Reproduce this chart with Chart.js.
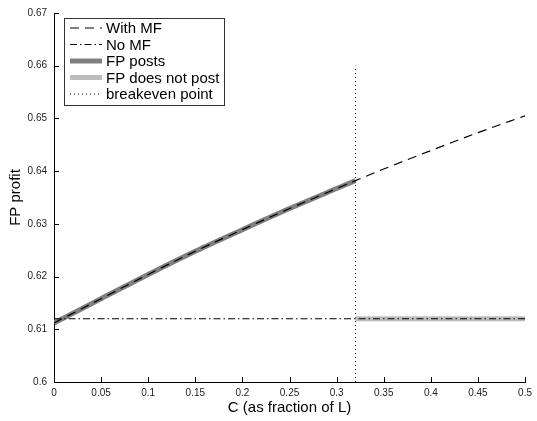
<!DOCTYPE html>
<html>
<head>
<meta charset="utf-8">
<script src="https://cdn.jsdelivr.net/npm/chart.js@4.4.1/dist/chart.umd.min.js"></script>
<style>
  html, body { margin: 0; padding: 0; background: #fff; }
  #wrap { width: 537px; height: 421px; }
</style>
</head>
<body>
<div id="wrap"><canvas id="chartFP"></canvas></div>
<script>
// values
const C_VALUES  = [0, 0.05, 0.1, 0.15, 0.2, 0.25, 0.3, 0.32, 0.35, 0.4, 0.45, 0.5];
const WITH_MF   = [0.6112, 0.6158, 0.6204, 0.6248, 0.6289, 0.6329, 0.6367, 0.6382, 0.6404, 0.6439, 0.6473, 0.6505];
const NO_MF_C   = [0, 0.5];
const NO_MF     = [0.612, 0.612];
const POSTS_C   = [0, 0.05, 0.1, 0.15, 0.2, 0.25, 0.3, 0.32];
const POSTS     = [0.6112, 0.6158, 0.6204, 0.6248, 0.6289, 0.6329, 0.6367, 0.6382];
const NOPOST_C  = [0.32, 0.5];
const NOPOST    = [0.612, 0.612];
const BREAK_C   = [0.32, 0.32];
const BREAK_Y   = [0.6, 0.66];
const X_TICKS   = [0, 0.05, 0.1, 0.15, 0.2, 0.25, 0.3, 0.35, 0.4, 0.45, 0.5];
const Y_TICKS   = [0.6, 0.61, 0.62, 0.63, 0.64, 0.65, 0.66, 0.67];
const LABELS    = ['With MF', 'No MF', 'FP posts', 'FP does not post', 'breakeven point'];

const FONT = "'Liberation Sans', Arial, Helvetica, sans-serif";

function pts(xs, ys) {
  return xs.map((x, i) => ({ x, y: ys[i] }));
}

function fmtTick(v) {
  return String(parseFloat(Number(v).toFixed(2)));
}

// MATLAB-style ticks pointing into the plot
const inwardTicks = {
  id: 'inwardTicks',
  afterDraw(chart) {
    const { ctx, chartArea: a, scales: { x, y } } = chart;
    ctx.save();
    ctx.strokeStyle = '#000';
    ctx.lineWidth = 1;
    ctx.beginPath();
    X_TICKS.forEach(v => {
      const px = Math.round(x.getPixelForValue(v)) + 0.5;
      ctx.moveTo(px, a.bottom);
      ctx.lineTo(px, a.bottom - 5);
    });
    Y_TICKS.forEach(v => {
      const py = Math.round(y.getPixelForValue(v)) + 0.5;
      ctx.moveTo(a.left, py);
      ctx.lineTo(a.left + 5, py);
    });
    ctx.stroke();
    ctx.restore();
  }
};

// boxed legend in the upper left corner
const boxLegend = {
  id: 'boxLegend',
  afterDraw(chart) {
    const ctx = chart.ctx;
    const left = 64, top = 18, w = 160, h = 87, row = 16.5;
    ctx.save();
    ctx.fillStyle = '#fff';
    ctx.fillRect(left, top, w, h);
    ctx.strokeStyle = '#333';
    ctx.lineWidth = 1;
    ctx.strokeRect(left + 0.5, top + 0.5, w, h);
    ctx.font = '15px ' + FONT;
    ctx.textBaseline = 'middle';
    chart.data.datasets.forEach((ds, i) => {
      const cy = top + 10 + i * row;
      ctx.beginPath();
      ctx.setLineDash(ds.borderDash || []);
      ctx.strokeStyle = ds.borderColor;
      ctx.lineWidth = ds.borderWidth;
      ctx.moveTo(70, cy);
      ctx.lineTo(102, cy);
      ctx.stroke();
      ctx.setLineDash([]);
      ctx.fillStyle = '#000';
      ctx.fillText(LABELS[i], 106, cy + 1);
    });
    ctx.restore();
  }
};

new Chart(document.getElementById('chartFP'), {
  type: 'line',
  data: {
    datasets: [
      { label: LABELS[0], data: pts(C_VALUES, WITH_MF), borderColor: '#000', borderWidth: 1.2,
        borderDash: [9, 6], cubicInterpolationMode: 'monotone' },
      { label: LABELS[1], data: pts(NO_MF_C, NO_MF), borderColor: '#000', borderWidth: 1.1,
        borderDash: [7, 3, 1.5, 3] },
      { label: LABELS[2], data: pts(POSTS_C, POSTS), borderColor: '#7f7f7f', borderWidth: 5,
        cubicInterpolationMode: 'monotone' },
      { label: LABELS[3], data: pts(NOPOST_C, NOPOST), borderColor: '#bdbdbd', borderWidth: 5 },
      { label: LABELS[4], data: pts(BREAK_C, BREAK_Y), borderColor: '#000', borderWidth: 1,
        borderDash: [1, 3] },
    ],
  },
  options: {
    responsive: true,
    maintainAspectRatio: false,
    animation: false,
    elements: { point: { radius: 0, hoverRadius: 0 }, line: { fill: false } },
    layout: { autoPadding: false, padding: { left: 0, right: 8, top: 13, bottom: 0 } },
    plugins: { legend: { display: false }, tooltip: { enabled: false } },
    scales: {
      x: {
        type: 'linear', min: 0, max: 0.5,
        afterBuildTicks: s => { s.ticks = X_TICKS.map(v => ({ value: v })); },
        afterFit: s => { s.height = 39; },
        grid: { drawOnChartArea: false, drawTicks: false },
        border: { display: true, color: '#000', width: 1 },
        ticks: { color: '#222', font: { family: FONT, size: 10 }, padding: 5, maxRotation: 0,
                 autoSkip: false, callback: v => fmtTick(v) },
        title: { display: true, text: 'C (as fraction of L)', color: '#000',
                 font: { family: FONT, size: 15 }, padding: { top: 0, bottom: 4 } },
      },
      y: {
        type: 'linear', min: 0.6, max: 0.67,
        afterBuildTicks: s => { s.ticks = Y_TICKS.map(v => ({ value: v })); },
        afterFit: s => { s.width = 54; },
        grid: { drawOnChartArea: false, drawTicks: false },
        border: { display: true, color: '#000', width: 1 },
        ticks: { color: '#222', font: { family: FONT, size: 10 }, padding: 7,
                 autoSkip: false, callback: v => fmtTick(v) },
        title: { display: true, text: 'FP profit', color: '#000',
                 font: { family: FONT, size: 15 }, padding: { top: 7, bottom: 0 } },
      },
    },
  },
  plugins: [inwardTicks, boxLegend],
});
</script>
</body>
</html>
